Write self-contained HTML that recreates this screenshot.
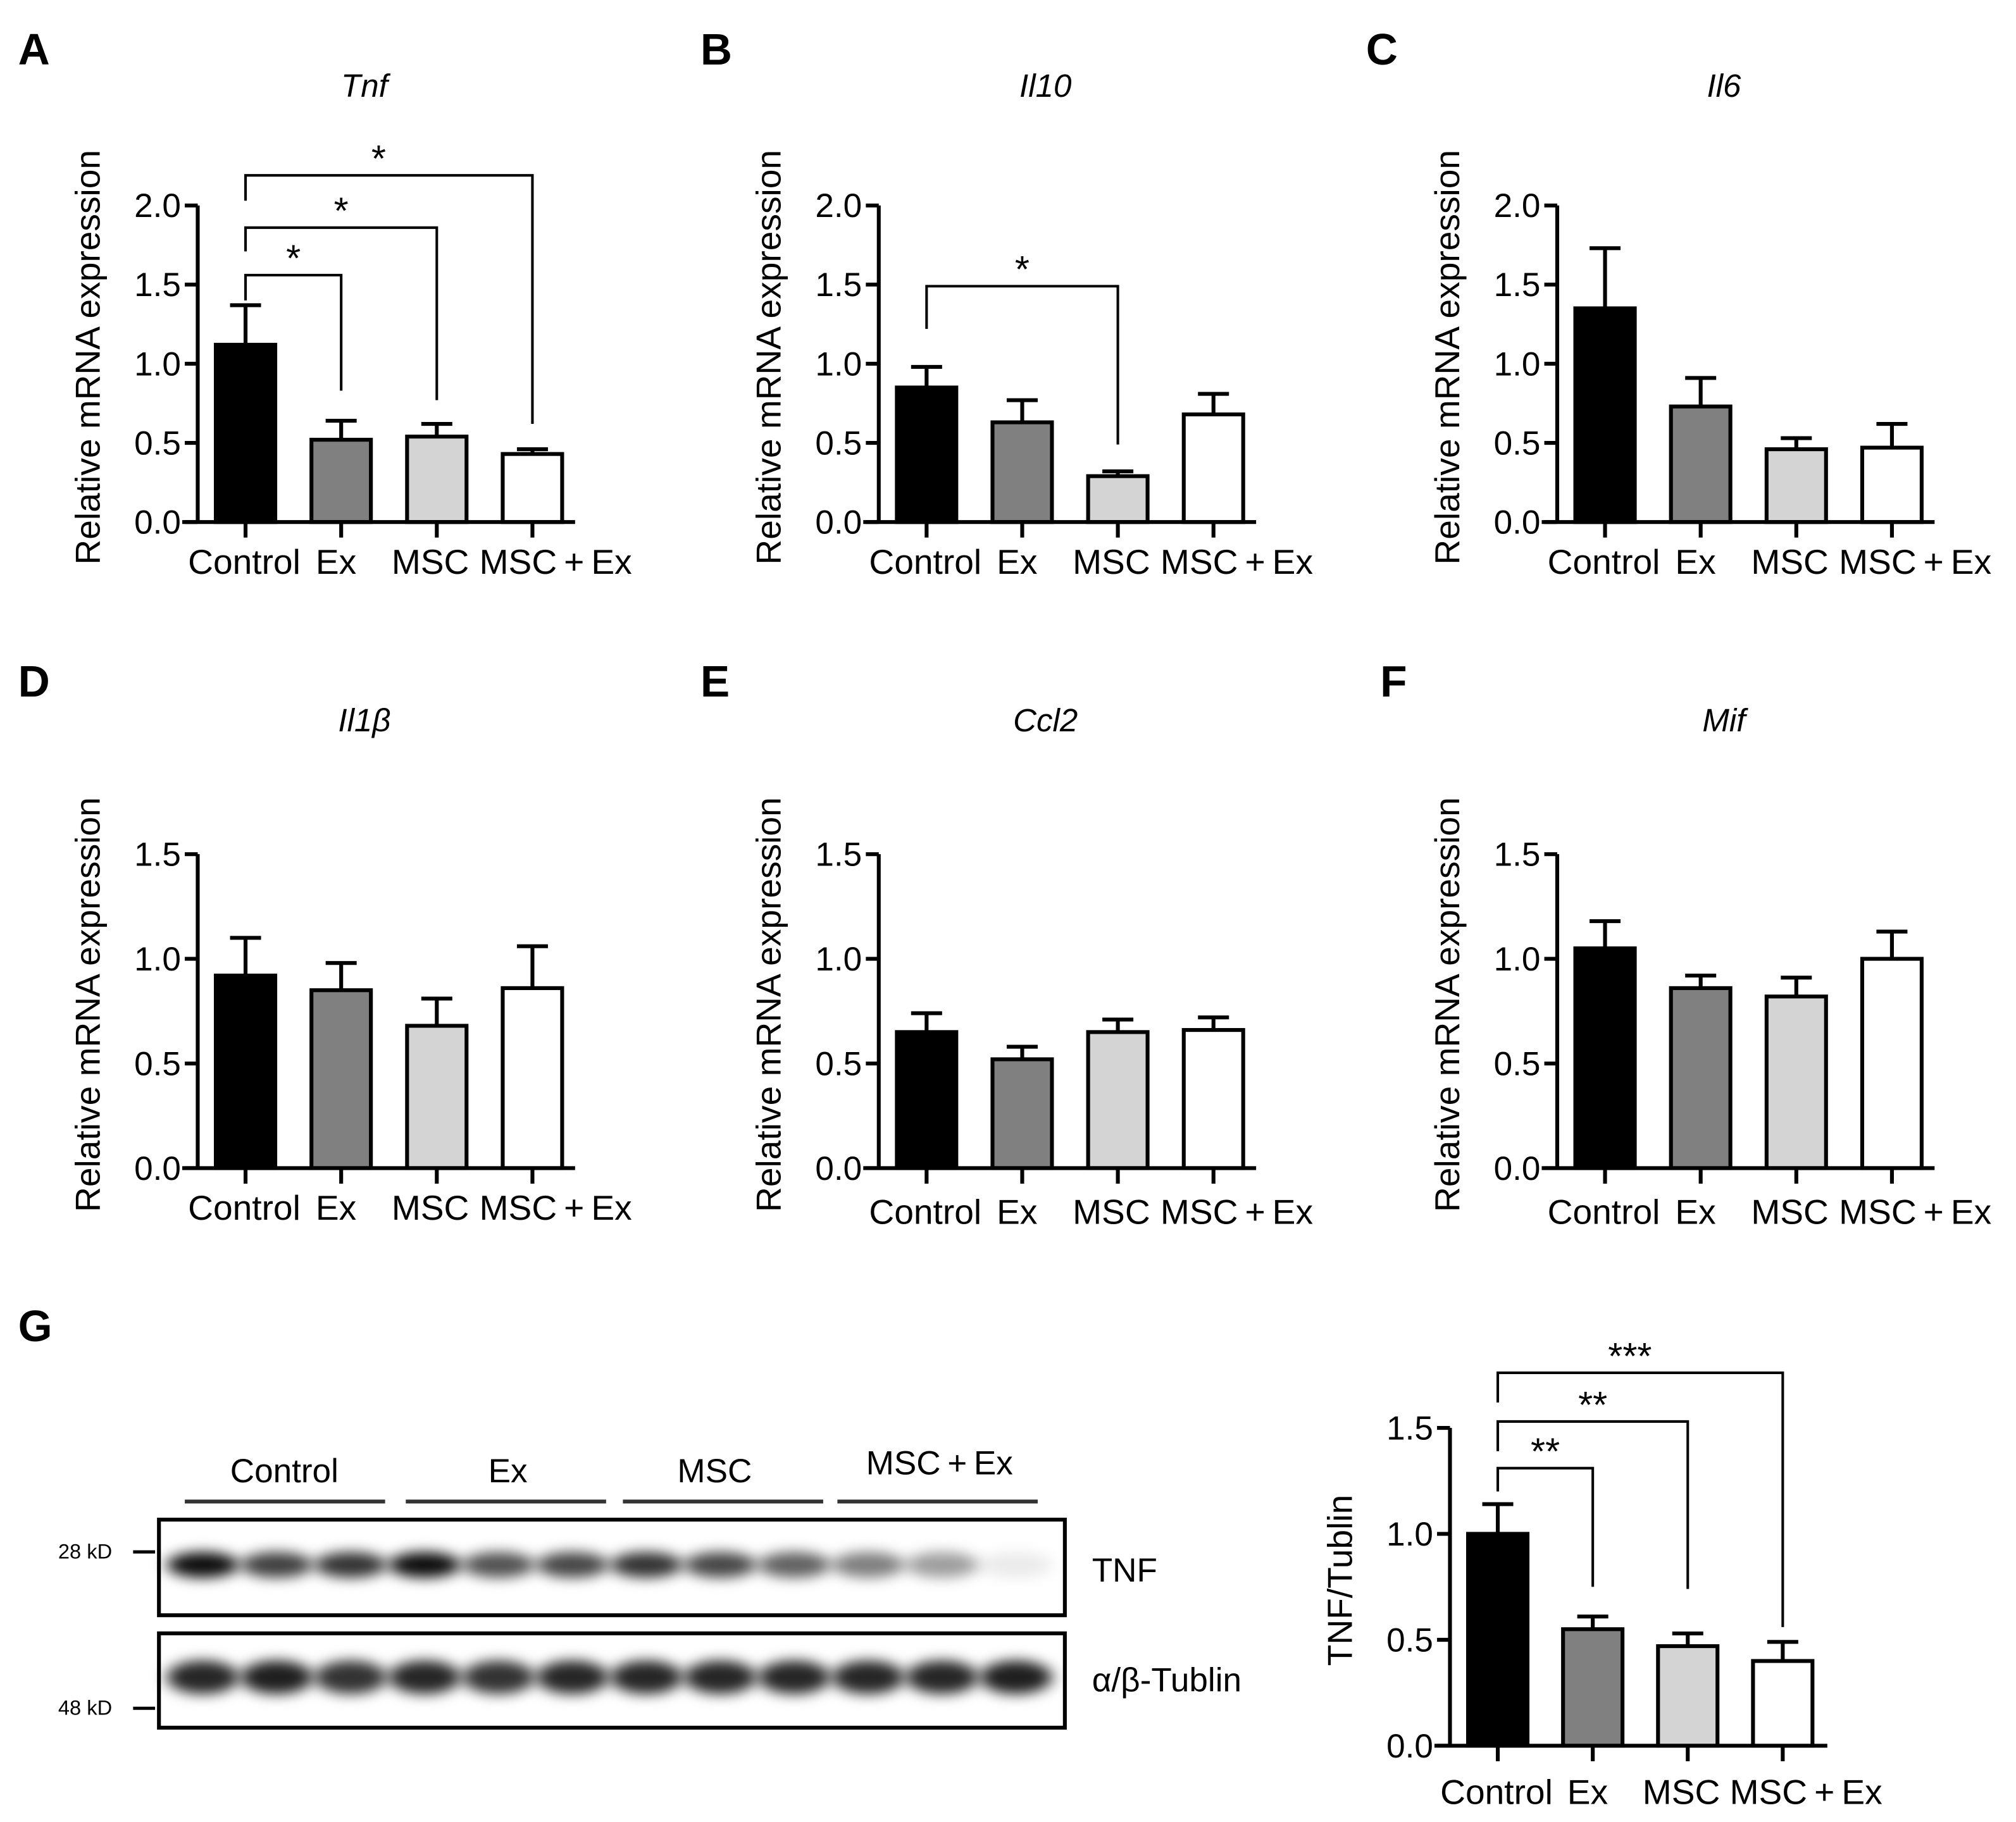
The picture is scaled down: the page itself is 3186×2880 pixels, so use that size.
<!DOCTYPE html>
<html><head><meta charset="utf-8"><style>
html,body{margin:0;padding:0;background:#fff;}
svg{display:block;}
text{font-family:"Liberation Sans",Arial,sans-serif;fill:#000;}
</style></head><body>
<svg id="fig" xmlns="http://www.w3.org/2000/svg" width="3186" height="2880" viewBox="0 0 1560 1410" preserveAspectRatio="none">
<defs><filter id="blur" x="-50%" y="-100%" width="200%" height="300%"><feGaussianBlur stdDeviation="6 5"/></filter></defs>
</svg>
<script>
const categories = ["Control","Ex","MSC","MSC + Ex"];
const fills = ["#000","#808080","#d4d4d4","#fff"];
const tnfMean = [1.12,0.52,0.54,0.43];
const tnfErr = [0.25,0.12,0.08,0.03];
const il10Mean = [0.85,0.63,0.29,0.68];
const il10Err = [0.13,0.14,0.03,0.13];
const il6Mean = [1.35,0.73,0.46,0.47];
const il6Err = [0.38,0.18,0.07,0.15];
const il1bMean = [0.92,0.85,0.68,0.86];
const il1bErr = [0.18,0.13,0.13,0.20];
const ccl2Mean = [0.65,0.52,0.65,0.66];
const ccl2Err = [0.09,0.06,0.06,0.06];
const mifMean = [1.05,0.86,0.82,1.00];
const mifErr = [0.13,0.06,0.09,0.13];
const wbMean = [1.00,0.55,0.47,0.40];
const wbErr = [0.14,0.06,0.06,0.09];
const ticks2 = ["0.0","0.5","1.0","1.5","2.0"];
const ticks15 = ["0.0","0.5","1.0","1.5"];
const tnfBandIntensity = [0.95,0.75,0.8,0.95,0.68,0.72,0.8,0.72,0.62,0.5,0.38,0.08];
const tubBandIntensity = [0.85,0.88,0.8,0.85,0.8,0.85,0.85,0.85,0.85,0.85,0.85,0.88];

const NS="http://www.w3.org/2000/svg";
const svg=document.getElementById('fig');
function mk(tag,attrs,parent){const e=document.createElementNS(NS,tag);for(const k in attrs)e.setAttribute(k,attrs[k]);(parent||svg).appendChild(e);return e;}
function txt(s,attrs,parent){const e=mk('text',attrs,parent);e.textContent=s;return e;}

function panel(o){
  const g=mk('g',{});
  
  
  const ymax=parseFloat(o.ticks[o.ticks.length-1]);
  const y=v=>o.y0-(v/ymax)*(o.y0-o.yTop);
  const cx=i=>o.ax+o.first+i*o.step;
  const bw=46;
  o.mean.forEach((m,i)=>{
    const eb=mk('line',{x1:cx(i),x2:cx(i),y1:y(m),y2:y(m+o.err[i]),stroke:'#000','stroke-width':3},g);
    
    
    const cap=mk('line',{x1:cx(i)-12,x2:cx(i)+12,y1:y(m+o.err[i]),y2:y(m+o.err[i]),stroke:'#000','stroke-width':3},g);
    
    
    const r=mk('rect',{x:cx(i)-bw/2,y:y(m),width:bw,height:o.y0-y(m),fill:fills[i],stroke:'#000','stroke-width':3},g);
    
    
  });
  const ya=mk('line',{x1:o.ax,x2:o.ax,y1:o.yTop,y2:o.y0,stroke:'#000','stroke-width':3},g);
  
  
  const xa=mk('line',{x1:o.ax-12,x2:o.ax+o.len,y1:o.y0,y2:o.y0,stroke:'#000','stroke-width':3},g);
  
  
  o.ticks.forEach(t=>{
    const v=parseFloat(t);
    mk('line',{x1:o.ax-10,x2:o.ax,y1:y(v),y2:y(v),stroke:'#000','stroke-width':3},g);
    const tl=txt(t,{x:o.ax-13,y:y(v)+9,'font-size':26,'text-anchor':'end'},g);
    
    
  });
  categories.forEach((c,i)=>{
    mk('line',{x1:cx(i),x2:cx(i),y1:o.y0,y2:o.y0+12,stroke:'#000','stroke-width':3},g);
  });
  const lab=['Control','Ex','MSC','MSC\u2009+\u2009Ex'];
  const offs=[-1,-4,-5,18];
  lab.forEach((c,i)=>{
    const t=txt(c,{x:cx(i)+offs[i],y:o.y0+o.lblDy,'font-size':27,'text-anchor':'middle'},g);
    
    
  });
  const yl=txt(o.ylabel,{x:0,y:0,'font-size':27,'text-anchor':'middle',transform:`translate(${o.ax-76},${(o.yTop+o.y0)/2-5}) rotate(-90)`},g);
  
  
  if(o.title){
    const tt=txt(o.title,{x:cx(1.5)-19,y:o.titleY,'font-size':25,'font-style':'italic','text-anchor':'middle'},g);
    
    
  }
  const L=txt(o.letter,{x:o.letterX,y:o.letterY,'font-size':34,'font-weight':'bold'},g);
  
  
  (o.brackets||[]).forEach(b=>{
    const yb=y(b.level), x1=cx(0), x2=cx(b.to);
    const p=mk('path',{d:`M${x1} ${y(b.leftEnd)} V${yb} H${x2} V${y(b.rightEnd)}`,fill:'none',stroke:'#000','stroke-width':2},g);
    
    
    const s=txt(b.star,{x:(x1+x2)/2-(b.to==3?8:0),y:yb-3,'font-size':29,'text-anchor':'middle'},g);
    
    
  });
}
const row1={yTop:159,y0:404,first:37,step:74,len:292,lblDy:40,titleY:75,ticks:ticks2,ylabel:'Relative mRNA expression',letterY:50};
const row2={yTop:661,y0:904,first:37,step:74,len:292,lblDy:41,titleY:566,ticks:ticks15,ylabel:'Relative mRNA expression',letterY:539};
panel(Object.assign({},row1,{name:'panel-a-tnf',ax:153,mean:tnfMean,err:tnfErr,title:'Tnf',letter:'A',letterX:14,
  brackets:[{to:1,level:1.56,leftEnd:1.40,rightEnd:0.83,star:'*'},{to:2,level:1.86,leftEnd:1.71,rightEnd:0.77,star:'*'},{to:3,level:2.19,leftEnd:2.03,rightEnd:0.62,star:'*'}]}));
panel(Object.assign({},row1,{name:'panel-b-il10',ax:680,mean:il10Mean,err:il10Err,title:'Il10',letter:'B',letterX:542,
  brackets:[{to:2,level:1.49,leftEnd:1.22,rightEnd:0.49,star:'*'}]}));
panel(Object.assign({},row1,{name:'panel-c-il6',ax:1205,mean:il6Mean,err:il6Err,title:'Il6',letter:'C',letterX:1057}));
panel(Object.assign({},row2,{name:'panel-d-il1b',ax:153,mean:il1bMean,err:il1bErr,title:'Il1β',letter:'D',letterX:14,lblDy:40}));
panel(Object.assign({},row2,{name:'panel-e-ccl2',ax:680,mean:ccl2Mean,err:ccl2Err,title:'Ccl2',letter:'E',letterX:542,lblDy:43}));
panel(Object.assign({},row2,{name:'panel-f-mif',ax:1205,mean:mifMean,err:mifErr,title:'Mif',letter:'F',letterX:1068,lblDy:43}));
panel({name:'panel-g-tnf-tublin',ax:1122,yTop:1105,y0:1351,first:37,step:73.5,len:292,lblDy:45,ticks:ticks15,ylabel:'TNF/Tublin',
  mean:wbMean,err:wbErr,letter:'G',letterX:14,letterY:1038,
  brackets:[{to:1,level:1.31,leftEnd:1.20,rightEnd:0.75,star:'**'},{to:2,level:1.53,leftEnd:1.39,rightEnd:0.74,star:'**'},{to:3,level:1.76,leftEnd:1.62,rightEnd:0.56,star:'***'}]});
const wb=mk('g',{});


const groupX=[220,393,553,727];
const groupLine=[[143,298],[314,469],[482,637],[648,803]];
const glab=['Control','Ex','MSC','MSC\u2009+\u2009Ex'];
glab.forEach((c,i)=>{
  const t=txt(c,{x:groupX[i],y:i==3?1141:1147,'font-size':26,'text-anchor':'middle'},wb);
  
  
  mk('line',{x1:groupLine[i][0],x2:groupLine[i][1],y1:1162,y2:1162,stroke:'#333','stroke-width':3},wb);
});
function band(vals,yc,name){
  const bg=mk('g',{},wb);
  
  
  vals.forEach((v,i)=>{
    const x=157+i*57.2;
    const e=mk('ellipse',{cx:x,cy:yc,rx:28,ry:name=='tnf-bands'?10:13,fill:'#000','fill-opacity':v,filter:'url(#blur)'},bg);
    
    
  });
}
band(tnfBandIntensity,1211,'tnf-bands');
band(tubBandIntensity,1298,'tublin-bands');
const b1=mk('rect',{x:123,y:1176,width:701,height:74,fill:'none',stroke:'#000','stroke-width':3},wb);

const b2=mk('rect',{x:123,y:1264,width:701,height:73,fill:'none',stroke:'#000','stroke-width':3},wb);

txt('28 kD',{x:45,y:1206,'font-size':16},wb);
txt('48 kD',{x:45,y:1327,'font-size':16},wb);
mk('line',{x1:103,x2:120,y1:1201,y2:1201,stroke:'#000','stroke-width':2.5},wb);
mk('line',{x1:103,x2:120,y1:1322,y2:1322,stroke:'#000','stroke-width':2.5},wb);
txt('TNF',{x:845,y:1224,'font-size':26},wb);
txt('α/β-Tublin',{x:845,y:1309,'font-size':26},wb);
</script>
</body></html>
